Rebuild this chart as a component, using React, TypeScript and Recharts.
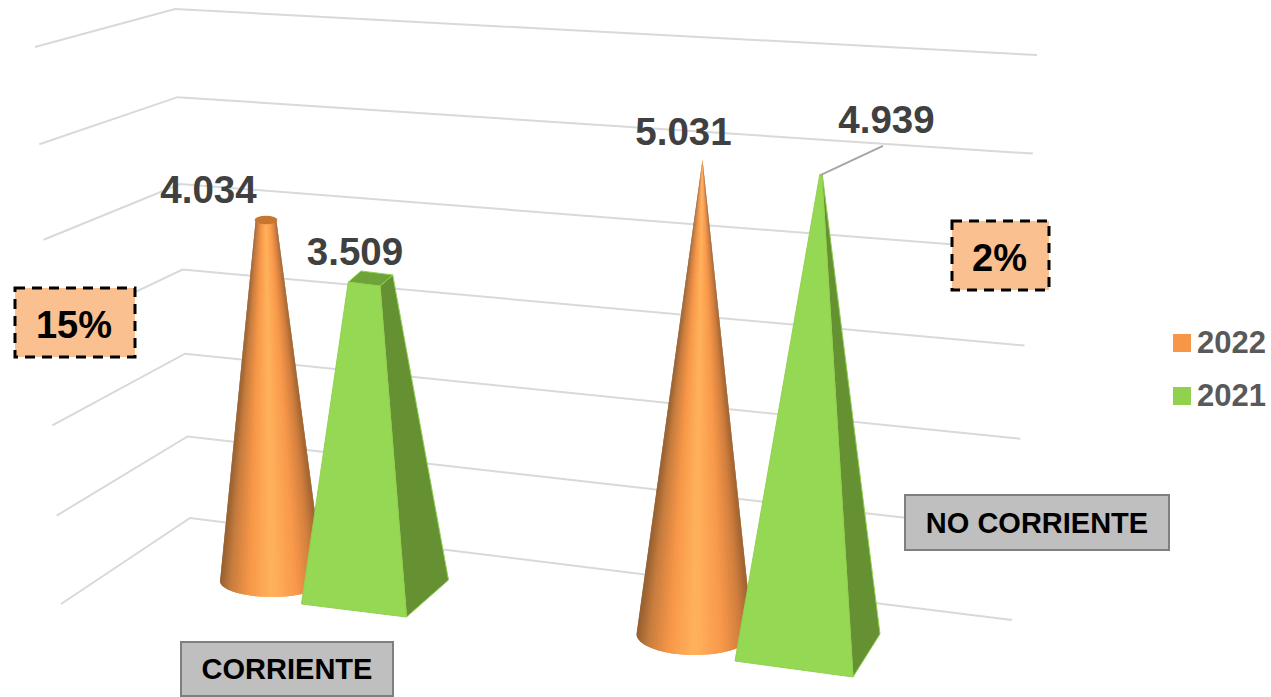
import { BarChart, Bar, XAxis, YAxis, CartesianGrid, Legend, LabelList } from 'recharts'

const categories = ['CORRIENTE', 'NO CORRIENTE']
const values2022 = [4034, 5031]
const values2021 = [3509, 4939]
const yTicks = [0, 1000, 2000, 3000, 4000, 5000, 6000]
const changeNotes = ['15%', '2%']

const chartData = categories.map((name, i) => ({
  name,
  y2022: values2022[i],
  y2021: values2021[i]
}))

const FONT = '"Liberation Sans", Arial, sans-serif'
const W = 1271
const H = 697
const PLOT_TOP = 9
const PLOT_BOTTOM = 518
const MAX_VALUE = Math.max(...values2022, ...values2021)

// fake 3D view: how far each bar's foot sits in front of the back wall
const coneView = [
  { dx: 3, dy: 63, stretch: 1.055, lean: -6, halfW: 52, ry: 16, labelDx: -57.5, labelDy: -17 },
  { dx: -1, dy: 116, stretch: 1.111, lean: 8, halfW: 58, ry: 21, labelDx: -19, labelDy: -15 }
]
const pyramidView = [
  { dx: -2, dy: 74, stretch: 1.053, lean: -4.5, halfW: 73.5, halfH: 12, frontX: 31.5, frontY: 25, labelDx: -15.5, labelDy: -13.5 },
  { dx: 4, dy: 129.5, stretch: 1.128, lean: 13.5, halfW: 72.5, halfH: 13.5, frontX: 45.5, frontY: 29.5, labelDx: 65.5, labelDy: -42, leader: true }
]
const categoryTags = [
  { x: 181, y: 642, w: 212, h: 54, baseline: 679 },
  { x: 905, y: 495, w: 264, h: 55, baseline: 533 }
]
const noteBoxes = [
  { x: 15, y: 288, w: 120, h: 69, baseline: 338, textDx: -1 },
  { x: 952, y: 221, w: 97, h: 69, baseline: 271, textDx: -1 }
]

const shadeStops: [number, number[]][] = [
  [0, [150, 95, 48]],
  [0.1, [198, 124, 62]],
  [0.28, [247, 151, 72]],
  [0.5, [255, 178, 92]],
  [0.74, [248, 152, 74]],
  [0.9, [208, 126, 62]],
  [1, [158, 98, 48]]
]

function shade(f: number) {
  for (let i = 1; i < shadeStops.length; i++) {
    const [a, ca] = shadeStops[i - 1]
    const [b, cb] = shadeStops[i]
    if (f <= b) {
      const t = (f - a) / (b - a)
      return `rgb(${ca.map((c, k) => Math.round(c + (cb[k] - c) * t)).join(',')})`
    }
  }
  return 'rgb(158,98,48)'
}

function ConeShape(props: any) {
  const { x, y, width, height, index } = props
  const v = coneView[index]
  const cx = x + width / 2 + v.dx
  const cy = y + height + v.dy
  const topX = cx + v.lean
  const topY = cy - height * v.stretch
  const r = 1 - values2022[index] / MAX_VALUE
  const N = 48
  const strips = []
  for (let i = 0; i < N; i++) {
    // each strip runs one step past its own edge so the next one covers the seam
    const a0 = Math.PI - (Math.PI * i) / N
    const a1 = Math.PI - (Math.PI * Math.min(i + 2, N)) / N
    const mid = Math.PI - (Math.PI * (i + 0.5)) / N
    const pts = [
      [cx + v.halfW * Math.cos(a0), cy + v.ry * Math.sin(a0)],
      [cx + v.halfW * Math.cos(mid), cy + v.ry * Math.sin(mid)],
      [cx + v.halfW * Math.cos(a1), cy + v.ry * Math.sin(a1)],
      [topX + r * v.halfW * Math.cos(a1), topY + r * v.ry * Math.sin(a1)],
      [topX + r * v.halfW * Math.cos(a0), topY + r * v.ry * Math.sin(a0)]
    ]
    strips.push(
      <polygon key={i} points={pts.map((p) => p.join(',')).join(' ')} fill={shade((Math.cos(mid) + 1) / 2)} />
    )
  }
  return (
    <g>
      {strips}
      {r > 0.02 && <ellipse cx={topX} cy={topY} rx={r * v.halfW + 1} ry={r * v.ry + 1} fill="#c8752e" />}
    </g>
  )
}

function PyramidShape(props: any) {
  const { x, y, width, height, index } = props
  const v = pyramidView[index]
  const cx = x + width / 2 + v.dx
  const cy = y + height + v.dy
  const topX = cx + v.lean
  const topY = cy - height * v.stretch
  const r = 1 - values2021[index] / MAX_VALUE
  const foot = (px: number, py: number) => [cx + px, cy + py]
  const head = (px: number, py: number) => [topX + r * px, topY + r * py]
  const path = (pts: number[][]) => pts.map((p) => p.join(',')).join(' ')
  const { halfW, halfH, frontX, frontY } = v
  return (
    <g stroke="#92D050" strokeWidth={1} strokeLinejoin="round">
      <polygon
        points={path([foot(frontX, frontY), foot(halfW, -halfH), head(halfW, -halfH), head(frontX, frontY)])}
        fill="#669133"
      />
      <polygon
        points={path([head(-halfW, halfH), head(frontX, frontY), head(halfW, -halfH), head(-frontX, -frontY)])}
        fill="#6ea33a"
      />
      <polygon
        points={path([foot(-halfW, halfH), foot(frontX, frontY), head(frontX, frontY), head(-halfW, halfH)])}
        fill="#95d854"
      />
    </g>
  )
}

function formatValue(v: number) {
  return `${Math.floor(v / 1000)}.${String(v % 1000).padStart(3, '0')}`
}

function barLabel(views: any[], values: number[]) {
  return function BarValue(props: any) {
    const { index } = props
    const box = props.viewBox ?? props
    const v = views[index]
    const topX = box.x + box.width / 2 + v.dx + v.lean
    const topY = box.y + box.height + v.dy - box.height * v.stretch
    return (
      <g>
        {v.leader && <line x1={topX} y1={topY} x2={topX + 62} y2={topY - 29} stroke="#a6a6a6" strokeWidth={2} />}
        <text
          x={topX + v.labelDx}
          y={topY + v.labelDy}
          textAnchor="middle"
          fontFamily={FONT}
          fontWeight="bold"
          fontSize={38.5}
          fill="#404040"
        >
          {formatValue(values[index])}
        </text>
      </g>
    )
  }
}

// back wall corner + the two lines running off left and right, bowed a little for perspective
function WallLine(props: any) {
  const { y1 } = props
  const t = (PLOT_BOTTOM - y1) / (PLOT_BOTTOM - PLOT_TOP)
  const bow = 4 * t * (1 - t)
  const pts = [
    [61 - 26 * t, 604 - 557 * t + 8 * bow],
    [190 - 15 * t, y1 + 6 * bow],
    [1012 + 25 * t, 620 - 565 * t + 8 * bow]
  ]
  return <polyline key={props.index} points={pts.map((p) => p.join(',')).join(' ')} fill="none" stroke="#d9d9d9" strokeWidth={2} />
}

function CategoryTag(props: any) {
  const { payload, index } = props
  const t = categoryTags[index]
  return (
    <g>
      <rect x={t.x} y={t.y} width={t.w} height={t.h} fill="#bfbfbf" stroke="#7f7f7f" strokeWidth={2} />
      <text
        x={t.x + t.w / 2}
        y={t.baseline}
        textAnchor="middle"
        fontFamily={FONT}
        fontWeight="bold"
        fontSize={29}
        fill="#000"
      >
        {payload.value}
      </text>
    </g>
  )
}

function LegendList(props: any) {
  return (
    <div>
      {props.payload.map((item: any, i: number) => (
        <div key={item.value} style={{ position: 'absolute', left: 0, top: i * 53, width: 100, height: 30 }}>
          <div style={{ position: 'absolute', left: 0, top: 6, width: 18, height: 18, background: item.color }} />
          <div
            style={{
              position: 'absolute',
              left: 24,
              top: 0,
              fontFamily: FONT,
              fontWeight: 'bold',
              fontSize: 31,
              lineHeight: '30px',
              color: '#595959'
            }}
          >
            {item.value}
          </div>
        </div>
      ))}
    </div>
  )
}

export default function App() {
  return (
    <div style={{ position: 'absolute', left: 0, top: 0, width: W, height: H, overflow: 'hidden', background: '#fff' }}>
      <BarChart
        width={W}
        height={H}
        data={chartData}
        barSize={100}
        barGap={8}
        margin={{ top: PLOT_TOP, right: 308, bottom: 149, left: 110 }}
      >
        <CartesianGrid vertical={false} horizontal={WallLine} />
        <XAxis dataKey="name" axisLine={false} tickLine={false} interval={0} height={30} tick={CategoryTag} />
        <YAxis hide domain={[0, 6000]} ticks={yTicks} />
        <Legend
          layout="vertical"
          align="center"
          verticalAlign="middle"
          itemSorter={null}
          content={LegendList}
          wrapperStyle={{ left: 1173, top: 328, width: 98, height: 90 }}
        />
        <Bar dataKey="y2022" name="2022" fill="#f79646" shape={ConeShape} isAnimationActive={false}>
          <LabelList dataKey="y2022" content={barLabel(coneView, values2022)} />
        </Bar>
        <Bar dataKey="y2021" name="2021" fill="#92d050" shape={PyramidShape} isAnimationActive={false}>
          <LabelList dataKey="y2021" content={barLabel(pyramidView, values2021)} />
        </Bar>
      </BarChart>
      <svg width={W} height={H} style={{ position: 'absolute', left: 0, top: 0, pointerEvents: 'none' }}>
        {noteBoxes.map((b, i) => (
          <g key={changeNotes[i]}>
            <rect x={b.x} y={b.y} width={b.w} height={b.h} fill="#fac090" stroke="#000" strokeWidth={3} strokeDasharray="10 7" />
            <text
              x={b.x + b.w / 2 + b.textDx}
              y={b.baseline}
              textAnchor="middle"
              fontFamily={FONT}
              fontWeight="bold"
              fontSize={38}
              fill="#000"
            >
              {changeNotes[i]}
            </text>
          </g>
        ))}
      </svg>
    </div>
  )
}
